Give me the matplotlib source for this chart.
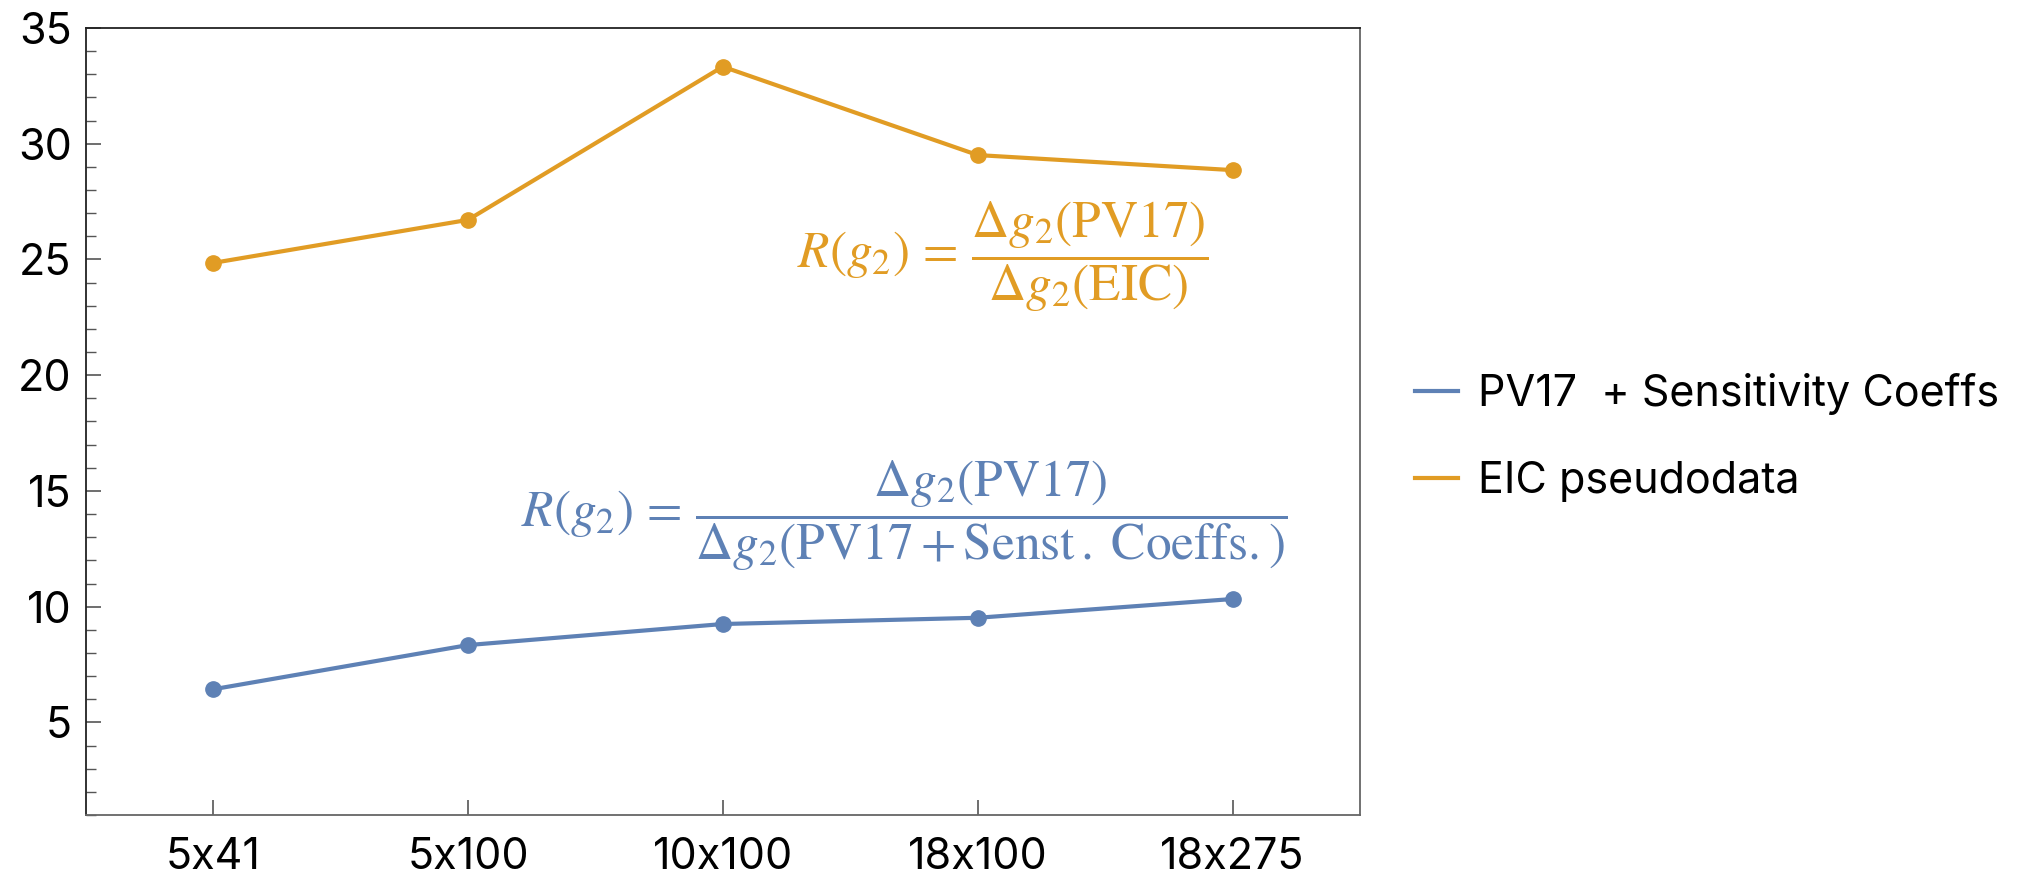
import matplotlib
matplotlib.use("Agg")
import matplotlib.pyplot as plt
from matplotlib.ticker import MultipleLocator

plt.rcParams['font.family'] = ['Inter', 'DejaVu Sans']
plt.rcParams['mathtext.fontset'] = 'stix'

categories = ["5x41", "5x100", "10x100", "18x100", "18x275"]
pv17_sens = [6.43, 8.34, 9.25, 9.52, 10.33]
eic_pseudo = [24.85, 26.71, 33.33, 29.51, 28.86]
series_labels = ["PV17  + Sensitivity Coeffs", "EIC pseudodata"]

BLUE = "#5E81B5"
ORANGE = "#E19C24"

fig = plt.figure(figsize=(20.39, 8.75), dpi=100)
ax = fig.add_axes([0.042, 0.0686, 0.625, 0.8994])

x = list(range(len(categories)))
l1, = ax.plot(x, pv17_sens, color=BLUE, lw=3, marker='o', ms=11, label=series_labels[0])
l2, = ax.plot(x, eic_pseudo, color=ORANGE, lw=3, marker='o', ms=11, label=series_labels[1])

ax.set_xlim(-0.5, 4.5)
ax.set_ylim(1, 35)
ax.set_xticks(x)
ax.set_xticklabels(categories)
ax.yaxis.set_major_locator(MultipleLocator(5))
ax.yaxis.set_minor_locator(MultipleLocator(1))
ax.set_yticks([5, 10, 15, 20, 25, 30, 35])

ax.tick_params(axis='both', which='major', direction='in', length=11, width=1.2,
               color='#555555', labelsize=31)
ax.tick_params(axis='y', which='major', pad=10)
ax.tick_params(axis='x', which='major', pad=16)
ax.tick_params(axis='y', which='minor', direction='in', length=7, width=1.0, color='#555555')
ax.tick_params(axis='x', which='minor', bottom=False)

for side in ['left', 'top']:
    ax.spines[side].set_color('#222222')
for side in ['right', 'bottom']:
    ax.spines[side].set_color('#666666')
for s in ax.spines.values():
    s.set_linewidth(1.3)

ax.text(2.29, 25.1, r"$R(g_2)\,=\,\dfrac{\Delta g_2(\mathrm{PV17})}{\Delta g_2(\mathrm{EIC})}$",
        color=ORANGE, fontsize=37, ha='left', va='center')
ax.text(1.208, 13.9,
        r"$R(g_2)\,=\,\dfrac{\Delta g_2(\mathrm{PV17})}{\Delta g_2(\mathrm{PV17} + \mathrm{Senst\,.\;Coeffs.})}$",
        color=BLUE, fontsize=37, ha='left', va='center')

leg = fig.legend(handles=[l1, l2], labels=series_labels, loc='center left',
                 bbox_to_anchor=(0.675, 0.5), frameon=False, fontsize=31,
                 handlelength=1.0, handletextpad=0.45, labelspacing=1.08)
for h in leg.legend_handles:
    h.set_marker('')
    h.set_linewidth(3)

fig.savefig("out.png", dpi=100)
